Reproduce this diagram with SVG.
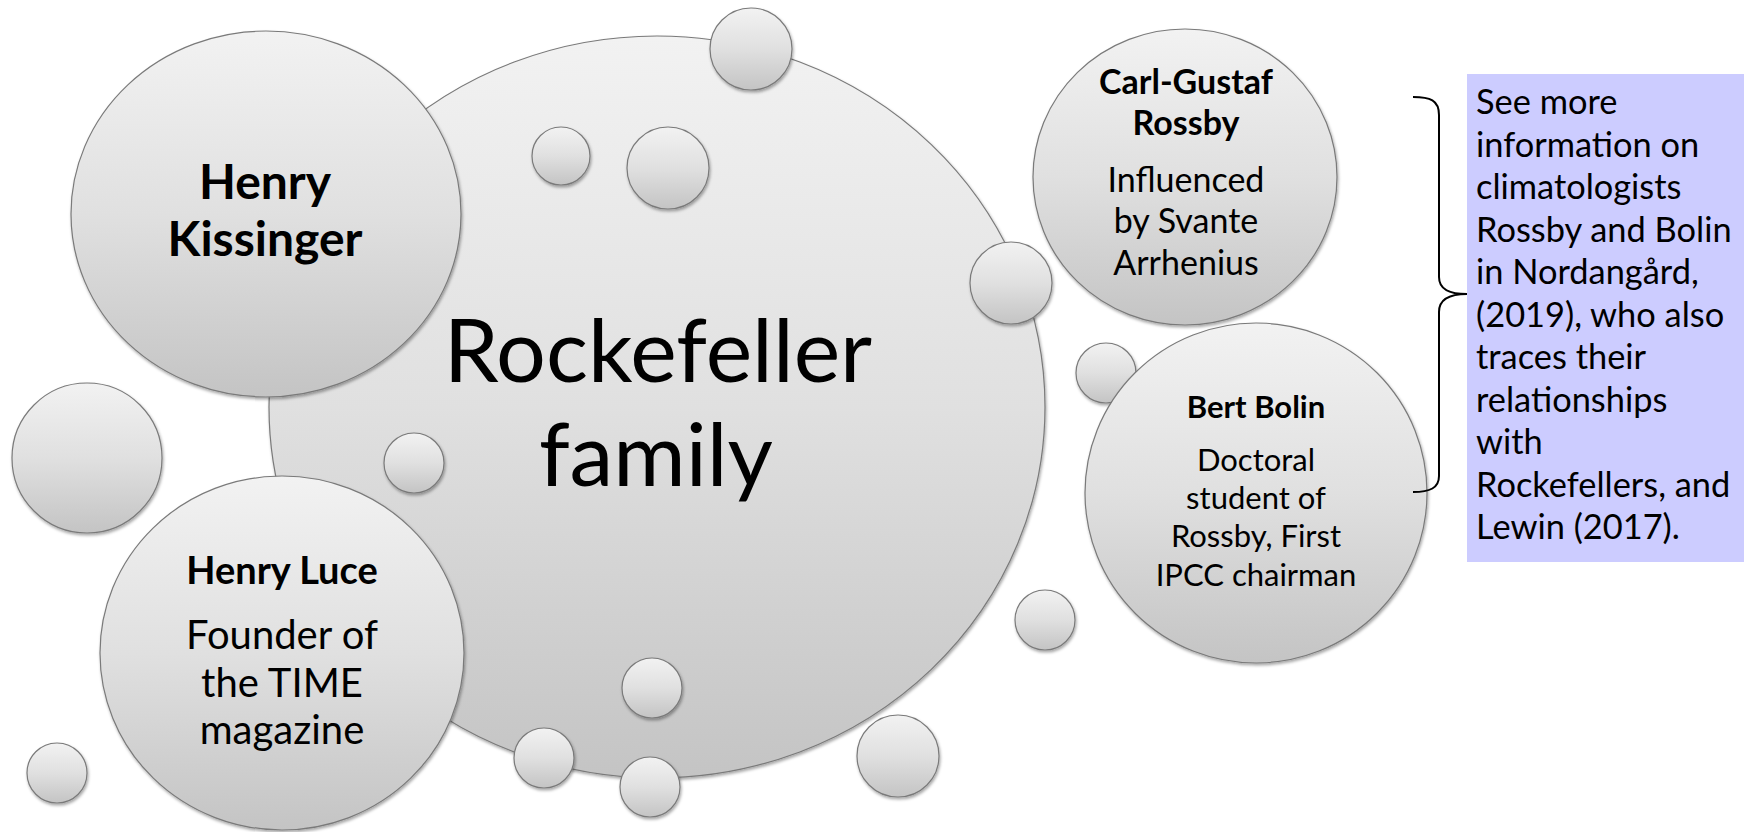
<svg xmlns="http://www.w3.org/2000/svg" width="1744" height="832" viewBox="0 0 1744 832">
<defs>
<linearGradient id="g" x1="0" y1="0" x2="0" y2="1">
<stop offset="0" stop-color="#f2f2f2"/>
<stop offset="0.5" stop-color="#e0e0e0"/>
<stop offset="1" stop-color="#c4c4c4"/>
</linearGradient>
<filter id="sh" x="-10%" y="-10%" width="125%" height="125%">
<feDropShadow dx="1" dy="2" stdDeviation="1.5" flood-color="#000" flood-opacity="0.35"/>
</filter>
</defs>
<style>
.c{fill:url(#g);stroke:#7a7a7a;stroke-width:1.2;filter:url(#sh)}
text{font-family:Lato,"Liberation Sans",sans-serif;fill:#000;text-anchor:middle}
.b{font-weight:bold}
.box{text-anchor:start;font-size:34.4px}
</style>
<rect width="1744" height="832" fill="#fff"/>
<g id="rockefeller">
<ellipse class="c" cx="657" cy="407" rx="388" ry="371"/>
<text x="658" y="382" font-size="88">Rockefeller</text>
<text x="656" y="486" font-size="88">family</text>
</g>
<g id="small-circles">
<circle class="c" cx="751" cy="49" r="41"/>
<circle class="c" cx="561" cy="156" r="29"/>
<circle class="c" cx="668" cy="168" r="41"/>
<circle class="c" cx="1011" cy="283" r="41"/>
<circle class="c" cx="1106" cy="373" r="30"/>
<circle class="c" cx="87" cy="458" r="75"/>
<circle class="c" cx="414" cy="463" r="30"/>
<circle class="c" cx="1045" cy="620" r="30"/>
<circle class="c" cx="652" cy="688" r="30"/>
<circle class="c" cx="544" cy="758" r="30"/>
<circle class="c" cx="650" cy="787" r="30"/>
<circle class="c" cx="898" cy="756" r="41"/>
<circle class="c" cx="57" cy="773" r="30"/>
</g>
<g id="kissinger">
<ellipse class="c" cx="266" cy="214" rx="195" ry="183"/>
<text class="b" x="265" y="199" font-size="48">Henry</text>
<text class="b" x="265" y="256" font-size="48">Kissinger</text>
</g>
<g id="luce">
<ellipse class="c" cx="282" cy="653" rx="182" ry="177"/>
<text class="b" x="282" y="584" font-size="38">Henry Luce</text>
<text x="282" y="649" font-size="40">Founder of</text>
<text x="282" y="697" font-size="40">the TIME</text>
<text x="282" y="744" font-size="40">magazine</text>
</g>
<g id="rossby">
<ellipse class="c" cx="1185" cy="177" rx="152" ry="148"/>
<text class="b" x="1186" y="94" font-size="34">Carl-Gustaf</text>
<text class="b" x="1186" y="135" font-size="34">Rossby</text>
<text x="1186" y="192" font-size="34">Influenced</text>
<text x="1186" y="233" font-size="34">by Svante</text>
<text x="1186" y="275" font-size="34">Arrhenius</text>
</g>
<g id="bolin">
<ellipse class="c" cx="1256" cy="493" rx="171" ry="170"/>
<text class="b" x="1256" y="418" font-size="31">Bert Bolin</text>
<text x="1256" y="471" font-size="31">Doctoral</text>
<text x="1256" y="509" font-size="31">student of</text>
<text x="1256" y="547" font-size="31">Rossby, First</text>
<text x="1256" y="586" font-size="31">IPCC chairman</text>
</g>
<g id="connectors">
<path d="M1413,97 C1430,97 1439,100 1439,115 L1439,277 C1439,290 1450,294 1467,294 C1450,294 1439,299 1439,312 L1439,476 C1439,488 1430,492 1413,492" fill="none" stroke="#000" stroke-width="2"/>
</g>
<g id="note">
<rect x="1467" y="74" width="277" height="488" fill="#ccccff"/>
<text class="box" x="1476" y="114">See more</text>
<text class="box" x="1476" y="156.5">information on</text>
<text class="box" x="1476" y="199">climatologists</text>
<text class="box" x="1476" y="241.5">Rossby and Bolin</text>
<text class="box" x="1476" y="284">in Nordangård,</text>
<text class="box" x="1476" y="326.5">(2019), who also</text>
<text class="box" x="1476" y="369">traces their</text>
<text class="box" x="1476" y="411.5">relationships</text>
<text class="box" x="1476" y="454">with</text>
<text class="box" x="1476" y="496.5">Rockefellers, and</text>
<text class="box" x="1476" y="539">Lewin (2017).</text>
</g>
</svg>
